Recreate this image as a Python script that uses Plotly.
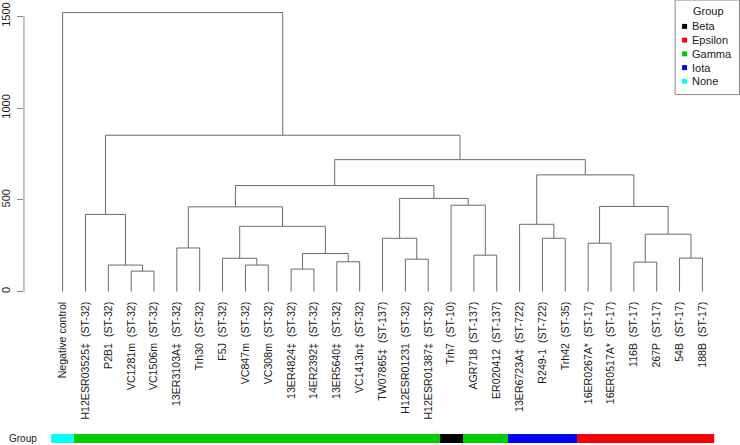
import plotly.graph_objects as go

# ---- data ----
leaf_labels = [
    "Negative control",
    "H12ESR03525‡  (ST-32)",
    "P2B1  (ST-32)",
    "VC1281m  (ST-32)",
    "VC1506m  (ST-32)",
    "13ER3103A‡  (ST-32)",
    "Trh30  (ST-32)",
    "F5J  (ST-32)",
    "VC847m  (ST-32)",
    "VC308m  (ST-32)",
    "13ER4824‡  (ST-32)",
    "14ER2392‡  (ST-32)",
    "13ER5640‡  (ST-32)",
    "VC1413n‡  (ST-32)",
    "TW07865‡  (ST-137)",
    "H12ESR01231  (ST-32)",
    "H12ESR01387‡  (ST-32)",
    "Trh7  (ST-10)",
    "AGR718  (ST-137)",
    "ER020412  (ST-137)",
    "13ER6723A‡  (ST-722)",
    "R249-1  (ST-722)",
    "Trh42  (ST-35)",
    "16ER0267A*  (ST-17)",
    "16ER0517A*  (ST-17)",
    "116B  (ST-17)",
    "267P  (ST-17)",
    "54B  (ST-17)",
    "188B  (ST-17)",
]

leaf_groups = (["None"] + ["Gamma"] * 16 + ["Beta"] + ["Gamma"] * 2
               + ["Iota"] * 3 + ["Epsilon"] * 6)

# merges: (left child id, right child id, height); leaves are 0..28, merges numbered from 29
merge_left = [3, 2, 1, 8, 7, 10, 12, 34, 33, 5, 38, 15, 14, 18, 17, 41, 39, 21, 20, 23, 25, 27, 49, 48, 47, 45, 31, 0]
merge_right = [4, 29, 30, 9, 32, 11, 13, 35, 36, 6, 37, 16, 40, 19, 42, 43, 44, 22, 46, 24, 26, 28, 50, 51, 52, 53, 54, 55]
merge_height = [112, 145, 421, 145, 182, 123, 163, 208, 356, 238, 462, 177, 291, 199, 471, 508, 578,
                291, 367, 264, 161, 183, 313, 464, 636, 719, 852, 1520]

group_names = ["Beta", "Epsilon", "Gamma", "Iota", "None"]
group_colors = ["#000000", "#FF0000", "#00CD00", "#0000FF", "#00FFFF"]

y_ticks = [0, 500, 1000, 1500]

# ---- build dendrogram segments ----
n = len(leaf_labels)
node_x = {i: float(i) for i in range(n)}
node_h = {i: 0.0 for i in range(n)}
xs, ys = [], []
for k, (a, b, h) in enumerate(zip(merge_left, merge_right, merge_height)):
    nid = n + k
    xa, xb = node_x[a], node_x[b]
    xs += [xa, xa, xb, xb, None]
    ys += [node_h[a], h, h, node_h[b], None]
    node_x[nid] = (xa + xb) / 2
    node_h[nid] = h

W, H = 740, 445
LINE = "#6a6a6a"
TEXT = "#1a1a1a"
FONT = "Liberation Sans, Arial, sans-serif"

fig = go.Figure()
fig.add_trace(go.Scatter(x=xs, y=ys, mode="lines", line=dict(color=LINE, width=1),
                         hoverinfo="skip", showlegend=False))

codes = [group_names.index(g) for g in leaf_groups]
cs = []
for i, c in enumerate(group_colors):
    cs.append([i / len(group_colors), c])
    cs.append([(i + 1) / len(group_colors), c])
fig.add_trace(go.Heatmap(x=list(range(n)), y=[0], z=[codes], zmin=-0.5, zmax=len(group_names) - 0.5,
                         colorscale=cs, showscale=False, xaxis="x", yaxis="y2", hoverinfo="skip"))

# pixel geometry
lx0, spacing = 61.7, 22.88
x_left_px, x_right_px = 23.0, 728.0
y0_px, per_unit = 292.0, 276.7 / 1500
top_px, bottom_px = 2.0, 292.0

def px_x(p):
    return p / W

def px_y(p):
    return 1 - p / H

fig.update_layout(
    width=W, height=H,
    margin=dict(l=0, r=0, t=0, b=0),
    paper_bgcolor="white", plot_bgcolor="white",
    font=dict(family=FONT, size=11, color=TEXT),
    showlegend=False,
    xaxis=dict(domain=[px_x(x_left_px), px_x(x_right_px)],
               range=[(x_left_px - lx0) / spacing, (x_right_px - lx0) / spacing],
               tickvals=list(range(n)), ticktext=leaf_labels, tickangle=-90,
               showgrid=False, zeroline=False, showline=False, ticks="",
               tickfont=dict(size=10.6, color=TEXT), anchor="y", ticklabelstandoff=7),
    yaxis=dict(domain=[px_y(bottom_px), px_y(top_px)],
               range=[(y0_px - bottom_px) / per_unit, (y0_px - top_px) / per_unit],
               tickvals=y_ticks, ticktext=[str(v) for v in y_ticks], tickangle=-90,
               showgrid=False, zeroline=False, showline=False,
               ticks="outside", ticklen=6, tickcolor="#888888", tickwidth=1,
               tickfont=dict(size=11, color=TEXT), anchor="x", ticklabelstandoff=3),
    yaxis2=dict(domain=[px_y(444), px_y(435)], anchor="x", showgrid=False, zeroline=False,
                showticklabels=False, ticks="", range=[-0.5, 0.5]),
)

# y axis line spanning the tick range (R style)
fig.add_shape(type="line", xref="paper", yref="y", x0=px_x(x_left_px), x1=px_x(x_left_px),
              y0=y_ticks[0], y1=y_ticks[-1], line=dict(color="#888888", width=1))

# "Group" label next to the colour bar
fig.add_annotation(xref="paper", yref="y2", x=px_x(38), y=0, text="Group", showarrow=False,
                   xanchor="right", yanchor="middle", font=dict(size=10, color=TEXT))

# legend box
lg_x0, lg_x1, lg_y0, lg_y1 = 675, 739.5, -1, 94
fig.add_shape(type="rect", xref="paper", yref="paper", x0=px_x(lg_x0), x1=px_x(lg_x1),
              y0=px_y(lg_y1), y1=px_y(lg_y0), line=dict(color="#888888", width=1),
              fillcolor="white")
fig.add_annotation(xref="paper", yref="paper", x=px_x(708), y=px_y(10), text="Group",
                   showarrow=False, xanchor="center", yanchor="middle", font=dict(size=11, color=TEXT))
for i, (g, c) in enumerate(zip(group_names, group_colors)):
    yc = 25.5 + i * 13.8
    fig.add_shape(type="rect", xref="paper", yref="paper", x0=px_x(682), x1=px_x(687),
                  y0=px_y(yc + 2.5), y1=px_y(yc - 2.5), line=dict(width=0), fillcolor=c)
    fig.add_annotation(xref="paper", yref="paper", x=px_x(690), y=px_y(yc), text=g,
                       showarrow=False, xanchor="left", yanchor="middle",
                       font=dict(size=11, color=TEXT))

fig.write_html("out.html", config={"displayModeBar": False},
               post_script="document.body.style.margin='0px';")
